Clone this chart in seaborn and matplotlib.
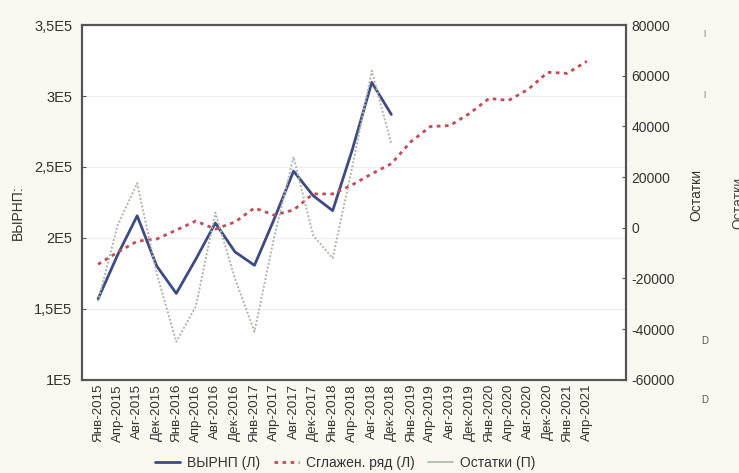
import numpy as np
import matplotlib
matplotlib.use("Agg")
from matplotlib import pyplot as plt
from matplotlib.lines import Line2D
from matplotlib.ticker import FuncFormatter, FixedLocator
import seaborn as sns

# data
months = [
    "Янв-2015", "Апр-2015", "Авг-2015", "Дек-2015",
    "Янв-2016", "Апр-2016", "Авг-2016", "Дек-2016",
    "Янв-2017", "Апр-2017", "Авг-2017", "Дек-2017",
    "Янв-2018", "Апр-2018", "Авг-2018", "Дек-2018",
    "Янв-2019", "Апр-2019", "Авг-2019", "Дек-2019",
    "Янв-2020", "Апр-2020", "Авг-2020", "Дек-2020",
    "Янв-2021", "Апр-2021",
]
vyrnp = [157000, 188000, 215600, 180200, 160900, 185000, 210500, 190200,
         180700, 213000, 247100, 229800, 219200, 262000, 309600, 287000]
smoothed = [181400, 189900, 197700, 199200, 205500, 211900, 206200, 211200,
            221100, 216100, 219700, 231000, 231000, 237400, 245200, 252300,
            267800, 278500, 279200, 287700, 298300, 296900, 304700, 316700,
            316000, 324500]
residuals = [-29000, 1000, 17600, -18000, -45000, -31000, 6000, -20000,
             -41000, -4000, 28000, -3000, -12000, 24000, 62000, 33000]

left_ticks = [100000, 150000, 200000, 250000, 300000, 350000]
left_labels = ["1E5", "1,5E5", "2E5", "2,5E5", "3E5", "3,5E5"]

sns.set_style("white")
plt.rcParams['font.family'] = ['Liberation Sans', 'DejaVu Sans']

bg = "#faf8f0"
txt = "#333333"
c_main, c_smooth, c_resid = "#3f4a85", "#c44a55", "#aab9a6"

fig = plt.figure(figsize=(7.39, 4.73), dpi=100, facecolor=bg)
ax = fig.add_axes([0.111, 0.197, 0.736, 0.750])
ax.set_facecolor("white")
ax2 = ax.twinx()

pos = np.arange(len(months))

sns.lineplot(x=pos[:len(vyrnp)], y=vyrnp, ax=ax, color=c_main,
             linewidth=2.0, legend=False)
sns.lineplot(x=pos, y=smoothed, ax=ax, color=c_smooth,
             linewidth=2.0, legend=False)
ax.lines[1].set_dashes((1.3, 1.6))
sns.lineplot(x=pos[:len(residuals)], y=residuals, ax=ax2, color=c_resid,
             linewidth=1.4, legend=False)
ax2.lines[0].set_dashes((1, 1))

ax.set_xlim(-0.82, 27.0)
ax.set_ylim(100000, 350000)
ax2.set_ylim(-60000, 80000)

ax.set_yticks(left_ticks)
ax.set_yticklabels(left_labels)
ax2.set_yticks(np.arange(-60000, 80001, 20000))
ax2.yaxis.set_major_formatter(FuncFormatter(lambda v, p: f"{int(v)}"))

ax.set_xticks(pos)
ax.set_xticklabels(months, rotation=90, fontsize=9.6, color=txt)
ax.tick_params(axis="x", length=0, pad=3)
ax.xaxis.set_minor_locator(FixedLocator(pos[1::2]))
ax.tick_params(axis="x", which="minor", length=3, direction="in",
               top=True, bottom=True, color="#555555")
ax.tick_params(axis="y", length=3, direction="in", labelsize=10.5,
               labelcolor=txt, color="#555555", pad=7)
ax2.tick_params(axis="y", length=3, direction="in", labelsize=10,
                labelcolor=txt, color="#555555", pad=4)

ax.grid(True, which="minor", axis="x", color="#eeeeee", linewidth=0.8)
ax.grid(True, which="major", axis="y", color="#eeeeee", linewidth=0.8)
ax.set_axisbelow(True)

for a in (ax, ax2):
    for s in a.spines.values():
        s.set_color("#555555")
        s.set_linewidth(1.5)

ax.set_ylabel("ВЫРНП:", fontsize=10, color=txt)
ax.yaxis.set_label_coords(-0.106, 0.47)
ax2.set_ylabel("Остатки", fontsize=10, color=txt)
ax2.yaxis.set_label_coords(1.116, 0.52)

# clipped second label and stray marks at the right edge
fig.text(0.99, 0.57, "Остатки", rotation=90, fontsize=10,
         color="#444444", ha="left", va="center")
for yy in [0.93, 0.80]:
    fig.text(0.953, yy, "|", fontsize=6, color="#555555", ha="center", va="center")
for yy in [0.28, 0.155]:
    fig.text(0.953, yy, "D", fontsize=7, color="#555555", ha="center", va="center")

handles = [
    Line2D([], [], color=c_main, linewidth=2.0),
    Line2D([], [], color=c_smooth, linewidth=2.0, dashes=(1.3, 1.6)),
    Line2D([], [], color=c_resid, linewidth=1.2),
]
fig.legend(handles, ["ВЫРНП (Л)", "Сглажен. ряд (Л)", "Остатки (П)"],
           loc="center", bbox_to_anchor=(0.467, 0.021), ncol=3, frameon=False,
           fontsize=10, handlelength=1.8, columnspacing=1.0, handletextpad=0.5,
           labelcolor=txt)

fig.savefig("out.png", dpi=100, facecolor=bg)
